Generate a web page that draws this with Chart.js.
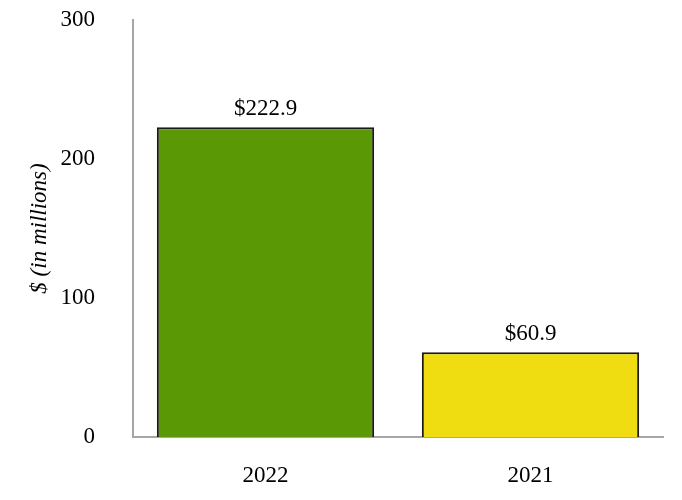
<!DOCTYPE html>
<html>
<head>
<meta charset="utf-8">
<script src="https://cdn.jsdelivr.net/npm/chart.js@4/dist/chart.umd.min.js"></script>
<style>
  html, body { margin: 0; padding: 0; background: #fff; }
  #wrap { width: 682px; height: 500px; }
</style>
</head>
<body>
<div id="wrap"><canvas id="chart" width="682" height="500"></canvas></div>
<script>
const years = ['2022', '2021'];
const amounts = [222.9, 60.9];
const barColors = ['#5a9905', '#efdd12'];
const yTicks = [0, 100, 200, 300];

const serif = "'Liberation Serif', 'Times New Roman', serif";

// write the $ labels above each bar
const valueLabels = {
  id: 'valueLabels',
  afterDatasetsDraw(chart) {
    const ctx = chart.ctx;
    const meta = chart.getDatasetMeta(0);
    ctx.save();
    ctx.font = '23px ' + serif;
    ctx.fillStyle = '#000';
    ctx.textAlign = 'center';
    ctx.textBaseline = 'alphabetic';
    meta.data.forEach((bar, i) => {
      ctx.fillText('$' + amounts[i].toFixed(1), bar.x, bar.y - 12);
    });
    ctx.restore();
  }
};

new Chart(document.getElementById('chart'), {
  type: 'bar',
  data: {
    labels: years,
    datasets: [{
      data: amounts,
      backgroundColor: barColors,
      borderColor: '#1a1a1a',
      borderWidth: 2,
      borderSkipped: 'bottom',
      categoryPercentage: 1,
      barPercentage: 0.82
    }]
  },
  options: {
    responsive: false,
    animation: false,
    layout: { padding: { top: 20, right: 19, left: 0, bottom: 0 } },
    plugins: { legend: { display: false }, tooltip: { enabled: false } },
    scales: {
      x: {
        grid: { display: false },
        border: { color: '#a6a6a6', width: 2 },
        ticks: { color: '#000', font: { family: serif, size: 23 }, padding: 17 },
        afterFit(scale) { scale.height = 63; scale.paddingLeft = 0; scale.paddingRight = 0; }
      },
      y: {
        min: 0,
        max: 300,
        afterBuildTicks(scale) { scale.ticks = yTicks.map(v => ({ value: v })); },
        grid: { display: false },
        border: { color: '#a6a6a6', width: 2 },
        ticks: { color: '#000', font: { family: serif, size: 23 }, padding: 30 },
        title: {
          display: true,
          text: '$ (in millions)',
          color: '#000',
          font: { family: serif, size: 23, style: 'italic' },
          padding: { top: 26, bottom: 0 }
        },
        afterFit(scale) { scale.width = 133; scale.paddingTop = 0; scale.paddingBottom = 0; }
      }
    }
  },
  plugins: [valueLabels]
});
</script>
</body>
</html>
